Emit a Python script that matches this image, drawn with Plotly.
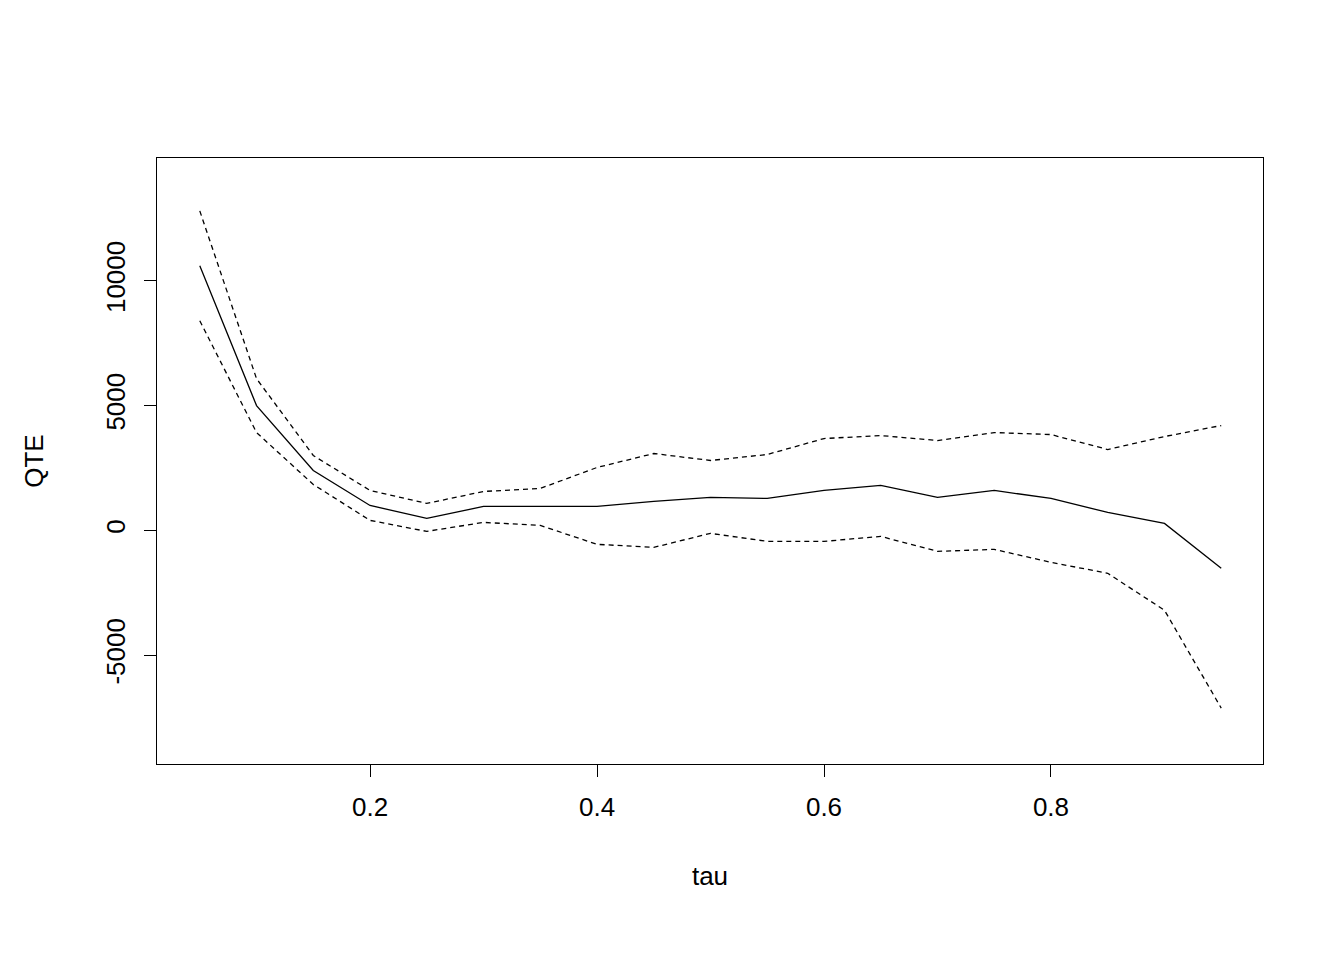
import plotly.graph_objects as go

tau = [0.05,0.1,0.15,0.2,0.25,0.3,0.35,0.4,0.45,0.5,0.55,0.6,0.65,0.7,0.75,0.8,0.85,0.9,0.95]
qte = [10600,5000,2400,1000,480,960,960,960,1160,1320,1280,1600,1800,1320,1600,1280,720,280,-1520]
upper = [12800,6080,3000,1600,1080,1560,1680,2520,3080,2800,3040,3680,3800,3600,3920,3840,3240,3760,4200]
lower = [8400,3920,1840,400,-40,320,200,-560,-680,-120,-440,-440,-240,-840,-760,-1280,-1720,-3200,-7120]

fig = go.Figure()
fig.add_trace(go.Scatter(x=tau, y=qte, mode="lines", line=dict(color="black", width=1.3)))
fig.add_trace(go.Scatter(x=tau, y=upper, mode="lines", line=dict(color="black", width=1.3, dash="5px,4px")))
fig.add_trace(go.Scatter(x=tau, y=lower, mode="lines", line=dict(color="black", width=1.3, dash="5px,4px")))

font = dict(family="Liberation Sans, Arial", size=26, color="black")
fig.update_layout(
    width=1344, height=960, showlegend=False,
    paper_bgcolor="white", plot_bgcolor="white",
    margin=dict(l=149, r=89, t=150, b=204),
    font=font,
    xaxis=dict(range=[0.0123, 0.9868], tickvals=[0.2,0.4,0.6,0.8], ticktext=["0.2","0.4","0.6","0.8"],
               showgrid=False, zeroline=False, showline=True, linecolor="black", linewidth=1.3, mirror=True,
               ticks="outside", ticklen=12, tickcolor="black", tickwidth=1.3, ticklabelstandoff=8,
               title=dict(text="tau", standoff=45, font=font)),
    yaxis=dict(range=[-9360, 14920], tickvals=[-5000,0,5000,10000], ticktext=["-5000","0","5000","10000"],
               tickangle=-90, showgrid=False, zeroline=False, showline=True, linecolor="black", linewidth=1.3, mirror=True,
               ticks="outside", ticklen=12, tickcolor="black", tickwidth=1.3, ticklabelstandoff=8,
               title=dict(text="QTE", standoff=50, font=font)),
)
fig.write_html("out.html")
